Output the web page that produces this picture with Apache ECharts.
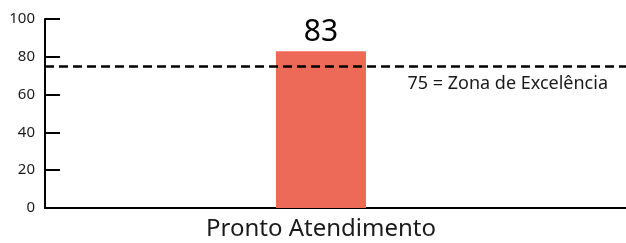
<!DOCTYPE html>
<html>
<head>
<meta charset="utf-8">
<script src="https://cdn.jsdelivr.net/npm/echarts@6/dist/echarts.min.js"></script>
<style>
  html, body { margin: 0; padding: 0; background: #fff; }
  #chart { width: 626px; height: 243px; }
</style>
</head>
<body>
<div id="chart"></div>
<script>
  // dados do gráfico
  var categorias = ['Pronto Atendimento'];
  var valores = [83];
  var meta = 75;
  var metaTexto = '75 = Zona de Excelência';
  var eixoY = { min: 0, max: 100, intervalo: 20 };

  var fonte = '"Noto Sans", "Open Sans", sans-serif';
  var myChart = echarts.init(document.getElementById('chart'));

  var option = {
    animation: false,
    grid: [
      // grade de fundo: eixos e linha de meta
      { left: 45, right: 0, top: 19, bottom: 35 },
      // grade da barra
      { left: 45, right: 29, top: 19, bottom: 35 }
    ],
    xAxis: [
      {
        gridIndex: 0,
        type: 'category',
        data: [''],
        axisLine: { show: true, lineStyle: { color: '#000', width: 2 } },
        axisTick: { show: false },
        axisLabel: { show: false }
      },
      {
        gridIndex: 1,
        type: 'category',
        data: categorias,
        axisLine: { show: false },
        axisTick: { show: false },
        axisLabel: { fontSize: 24, color: '#1a1a1a', fontFamily: fonte, margin: 9 }
      }
    ],
    yAxis: [
      {
        gridIndex: 0,
        type: 'value',
        min: eixoY.min,
        max: eixoY.max,
        interval: eixoY.intervalo,
        axisLine: { show: true, lineStyle: { color: '#000', width: 2 } },
        axisTick: { show: true, inside: true, length: 15, lineStyle: { color: '#000', width: 2 } },
        axisLabel: { fontSize: 15, color: '#1a1a1a', fontFamily: fonte, margin: 10 },
        splitLine: { show: false }
      },
      {
        gridIndex: 1,
        type: 'value',
        min: eixoY.min,
        max: eixoY.max,
        interval: eixoY.intervalo,
        show: false
      }
    ],
    series: [
      {
        type: 'bar',
        xAxisIndex: 1,
        yAxisIndex: 1,
        data: valores,
        barWidth: 90,
        z: 1,
        itemStyle: { color: '#EE6A58' },
        label: {
          show: true,
          position: 'top',
          distance: 4,
          fontSize: 30,
          color: '#000',
          fontFamily: fonte
        }
      },
      {
        type: 'line',
        xAxisIndex: 0,
        yAxisIndex: 0,
        data: [],
        z: 5,
        markLine: {
          silent: true,
          symbol: 'none',
          lineStyle: { type: [9, 5], color: '#000', width: 2.5 },
          label: {
            show: true,
            position: 'insideEndBottom',
            formatter: metaTexto,
            fontSize: 18,
            color: '#1a1a1a',
            fontFamily: fonte,
            distance: [18, 9]
          },
          data: [{ yAxis: meta }]
        }
      }
    ]
  };
  myChart.setOption(option);
</script>
</body>
</html>
